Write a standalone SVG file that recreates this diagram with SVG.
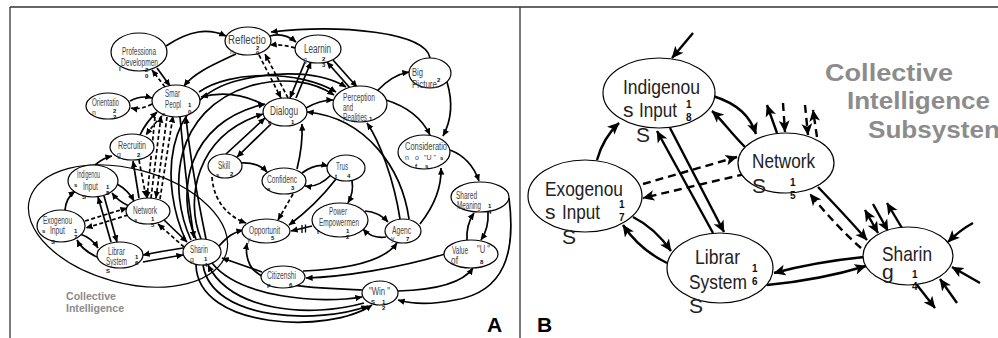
<svg xmlns="http://www.w3.org/2000/svg" width="998" height="338" viewBox="0 0 998 338">
<defs>
  <marker id="ha" viewBox="0 0 10 10" refX="9.5" refY="5" markerWidth="7" markerHeight="7" markerUnits="userSpaceOnUse" orient="auto"><path d="M0,0.5 L10,5 L0,9.5 z" fill="#000"/></marker>
  <marker id="has" viewBox="0 0 10 10" refX="9.5" refY="5" markerWidth="7" markerHeight="7" markerUnits="userSpaceOnUse" orient="auto-start-reverse"><path d="M0,0.5 L10,5 L0,9.5 z" fill="#000"/></marker>
  <marker id="hb" viewBox="0 0 10 10" refX="9.5" refY="5" markerWidth="12" markerHeight="12" markerUnits="userSpaceOnUse" orient="auto"><path d="M0,0.5 L10,5 L0,9.5 L2.5,5 z" fill="#000"/></marker>
  <marker id="hbs" viewBox="0 0 10 10" refX="9.5" refY="5" markerWidth="12" markerHeight="12" markerUnits="userSpaceOnUse" orient="auto-start-reverse"><path d="M0,0.5 L10,5 L0,9.5 L2.5,5 z" fill="#000"/></marker>
  <style>
    .frame { stroke:#333; stroke-width:1.3; fill:none }
    .node ellipse { fill:#fff; stroke:#000; stroke-width:1.2 }
    .ci-ring { fill:none; stroke:#000; stroke-width:1.2 }
    .a { fill:none; stroke:#000; stroke-width:1.7; marker-end:url(#ha) }
    .a2 { marker-start:url(#has) }
    .ad { stroke-dasharray:4 2.5 }
    .p { fill:none; stroke:#000; stroke-width:1.3 }
    .b { fill:none; stroke:#000; stroke-width:2.4; marker-end:url(#hb) }
    .b2 { marker-start:url(#hbs) }
    .bd { stroke-dasharray:8 5 }
    text { font-family:"Liberation Sans", Arial, Helvetica, sans-serif }
    .ta { font-size:10px; fill:#444 }
    .tl { font-size:12px; fill:#444 }
    .ts { font-size:7px; fill:#444 }
    .num { font-size:6px; font-weight:bold; fill:#111 }
    .tb { font-size:21px; fill:#222 }
    .numb { font-size:10px; font-weight:bold; fill:#111 }
    .ci { font-weight:bold; fill:#8c8c8c }
    .panel { font-size:21px; font-weight:bold; fill:#000 }
  </style>
</defs>
<rect width="998" height="338" fill="#fff"/>

<!-- frame and panel divider -->
<g id="frame">
  <line class="frame" x1="10" y1="7" x2="998" y2="7"/>
  <line class="frame" x1="10" y1="7" x2="10" y2="338"/>
  <line class="frame" x1="520" y1="7" x2="520" y2="338"/>
  <text class="panel" x="487" y="332">A</text>
  <text class="panel" x="537" y="332">B</text>
</g>

<!-- ===================== Panel A ===================== -->
<g id="panel-a">
  <ellipse id="ci-boundary" class="ci-ring" cx="128" cy="226" rx="102" ry="57" transform="rotate(15 128 226)"/>
  <text class="ci" x="66" y="300" font-size="10.5" textLength="50" lengthAdjust="spacingAndGlyphs">Collective</text>
  <text class="ci" x="66" y="312" font-size="10.5" textLength="58" lengthAdjust="spacingAndGlyphs">Intelligence</text>

  <g id="connectors-a">
    <!-- upper cluster -->
    <path class="a" d="M166,46 C190,30 208,28 226,36"/>
    <path class="a" d="M236,54 C215,64 195,72 184,86"/>
    <path class="a" d="M157,68 L170,86"/>
    <path class="a ad" d="M165,87 L152,70"/>
    <path class="a" d="M130,101 Q141,95 152,98"/>
    <path class="a ad" d="M152,104 Q141,110 131,108"/>
    <path class="a" d="M140,135 Q146,122 157,112"/>
    <path class="a ad" d="M162,116 Q153,125 146,135"/>
    <path class="a" d="M270,36 Q284,32 296,42"/>
    <path class="a ad" d="M295,48 Q282,44 270,45"/>
    <path class="a" d="M430,58 C426,32 340,24 271,32"/>
    <path class="a ad" d="M259,55 L281,98"/>
    <path class="a ad" d="M288,98 L265,54"/>
    <path class="a" d="M305,62 L290,98"/>
    <path class="a" d="M296,98 L311,62"/>
    <path class="a" d="M333,60 L357,87"/>
    <path class="a" d="M350,88 L327,62"/>
    <path class="a" d="M306,108 Q320,100 333,100"/>
    <path class="a" d="M377,91 Q392,75 409,72"/>
    <path class="a" d="M447,82 Q456,112 443,136"/>
    <path class="a" d="M386,100 Q418,110 430,135"/>
    <path class="a" d="M199,92 C230,70 300,70 336,92"/>
    <path class="a" d="M264,105 C240,92 220,92 201,97"/>
    <!-- arcs from Sharing up to Dialogue / Perception -->
    <path class="a" d="M201,239 C185,200 195,135 263,114"/>
    <path class="a" d="M196,239 C176,195 185,122 265,104"/>
    <path class="a" d="M191,240 C168,190 172,110 250,86 C285,76 315,82 334,95"/>
    <path class="a" d="M186,241 C160,185 162,98 240,80 C280,70 322,72 346,87"/>
    <path class="a" d="M180,117 C184,160 188,200 194,238"/>
    <path class="a" d="M206,239 C198,200 190,160 186,117"/>
    <!-- Smart People / Network dashed bundle -->
    <path class="a ad" d="M155,117 L147,198"/>
    <path class="a ad" d="M151,198 L161,116"/>
    <path class="a ad" d="M167,117 L156,198"/>
    <path class="a ad" d="M160,199 L173,116"/>
    <path class="a" d="M139,198 L133,161"/>
    <path class="a ad" d="M139,160 L146,197"/>
    <path class="a" d="M95,165 Q103,158 112,156"/>
    <!-- Dialogue, Skill, Confidence, Trust -->
    <path class="a" d="M226,154 L265,118"/>
    <path class="a" d="M271,124 L237,157"/>
    <path class="a" d="M241,163 Q258,162 267,172"/>
    <path class="a" d="M297,169 Q303,145 302,124"/>
    <path class="a ad" d="M212,177 C214,205 232,218 246,223"/>
    <path class="a ad" d="M293,194 L278,220"/>
    <path class="a" d="M302,173 Q315,163 328,166"/>
    <path class="a" d="M331,175 Q318,188 305,186"/>
    <path class="a" d="M352,181 Q354,192 348,203"/>
    <path class="a" d="M336,179 Q316,205 289,225"/>
    <path class="a" d="M312,226 L291,231"/>
    <path class="p" d="M302,225 L302,233 M305.5,224.5 L305.5,232.5"/>
    <path class="a" d="M365,211 Q379,212 388,222"/>
    <path class="a" d="M386,237 Q372,239 363,229"/>
    <path class="a" d="M420,224 Q442,196 441,168"/>
    <path class="a" d="M400,219 C394,180 380,142 367,123"/>
    <path class="a" d="M409,219 C402,170 368,118 307,112"/>
    <!-- right cluster -->
    <path class="a" d="M450,150 Q471,158 479,181"/>
    <path class="a" d="M467,240 Q466,225 474,213"/>
    <path class="a" d="M488,212 Q489,228 481,240"/>
    <path class="a" d="M398,291 C432,290 462,284 473,268"/>
    <path class="a" d="M509,198 C516,252 505,292 455,300 C430,305 412,304 398,300"/>
    <path class="a" d="M445,254 C400,268 342,277 306,278"/>
    <path class="a" d="M303,271 C350,269 385,260 397,243"/>
    <!-- Opportunity, Citizenship, Sharing, Win -->
    <path class="a" d="M219,246 C228,236 234,232 243,230"/>
    <path class="a" d="M262,272 L222,258"/>
    <path class="a" d="M362,290 C320,288 262,288 250,265 Q245,255 247,243"/>
    <path class="a" d="M212,263 C240,298 320,304 362,297"/>
    <path class="a" d="M364,303 C310,318 232,312 208,265"/>
    <path class="a" d="M203,265 C212,322 320,324 368,306"/>
    <path class="a" d="M196,265 C198,330 330,334 372,305"/>
    <!-- Collective Intelligence cluster -->
    <path class="a" d="M65,210 Q66,198 75,191"/>
    <path class="a" d="M117,184 Q128,190 134,201"/>
    <path class="a" d="M129,206 Q118,201 112,193"/>
    <path class="a" d="M104,196 L117,242"/>
    <path class="a" d="M111,242 L98,197"/>
    <path class="a ad" d="M85,221 L127,208"/>
    <path class="a ad" d="M128,215 L86,228"/>
    <path class="a" d="M80,234 Q92,238 98,248"/>
    <path class="a" d="M97,257 Q82,250 77,240"/>
    <path class="a" d="M143,262 Q165,258 183,255"/>
    <path class="a" d="M183,248 Q163,251 143,255"/>
    <path class="a" d="M162,218 L187,242"/>
    <path class="a ad" d="M184,247 L158,224"/>
  </g>

  <g id="a-professional-development" class="node"><ellipse cx="139" cy="52" rx="28" ry="19"/>
    <text class="ta" x="122" y="55" textLength="34" lengthAdjust="spacingAndGlyphs">Professiona</text>
    <text class="ta" x="121" y="66" textLength="37" lengthAdjust="spacingAndGlyphs">Developmen</text>
    <text class="num" x="119" y="71">l</text><text class="num" x="145" y="72">2</text><text class="num" x="145" y="78">0</text></g>
  <g id="a-reflection" class="node"><ellipse cx="248" cy="41" rx="23" ry="14"/>
    <text class="tl" x="228" y="44" textLength="38" lengthAdjust="spacingAndGlyphs">Reflectio</text>
    <text class="ts" x="230" y="54">n</text><text class="num" x="256" y="50">2</text><text class="num" x="256" y="55">0</text></g>
  <g id="a-learning" class="node"><ellipse cx="318" cy="49" rx="23" ry="14"/>
    <text class="tl" x="304" y="53" textLength="27" lengthAdjust="spacingAndGlyphs">Learnin</text>
    <text class="ts" x="303" y="62">g</text><text class="num" x="322" y="61">2</text><text class="num" x="322" y="67">3</text></g>
  <g id="a-big-picture" class="node"><ellipse cx="430" cy="73" rx="21" ry="15"/>
    <text class="ta" x="412" y="76" font-size="11" textLength="11" lengthAdjust="spacingAndGlyphs">Big</text>
    <text class="ta" x="412" y="88" font-size="11" textLength="25" lengthAdjust="spacingAndGlyphs">Picture</text>
    <text class="num" x="437" y="82">2</text></g>
  <g id="a-smart-people" class="node"><ellipse cx="176" cy="101" rx="24" ry="16"/>
    <text class="ta" x="165" y="97" textLength="15" lengthAdjust="spacingAndGlyphs">Smar</text>
    <text class="ta" x="165" y="108" textLength="16" lengthAdjust="spacingAndGlyphs">Peopl</text>
    <text class="num" x="188" y="107">1</text><text class="num" x="188" y="114">0</text><text class="num" x="162" y="116">e</text></g>
  <g id="a-orientation" class="node"><ellipse cx="108" cy="106" rx="22" ry="13"/>
    <text class="ta" x="92" y="106" textLength="27" lengthAdjust="spacingAndGlyphs">Orientatio</text>
    <text class="ts" x="92" y="115">n</text><text class="num" x="113" y="113">2</text><text class="num" x="113" y="119">2</text></g>
  <g id="a-recruiting" class="node"><ellipse cx="132" cy="147" rx="22" ry="13"/>
    <text class="ta" x="118" y="149" textLength="28" lengthAdjust="spacingAndGlyphs">Recruitin</text>
    <text class="ts" x="117" y="157">g</text><text class="num" x="137" y="157">2</text></g>
  <g id="a-dialogue" class="node"><ellipse cx="285" cy="112" rx="22" ry="14"/>
    <text class="tl" x="270" y="115" textLength="28" lengthAdjust="spacingAndGlyphs">Dialogu</text>
    <text class="num" x="268" y="124">e</text><text class="num" x="291" y="124">1</text></g>
  <g id="a-perception" class="node"><ellipse cx="360" cy="104" rx="27" ry="18"/>
    <text class="ta" x="343" y="101" font-size="9.5" textLength="32" lengthAdjust="spacingAndGlyphs">Perception</text>
    <text class="ta" x="343" y="111" font-size="9.5" textLength="10" lengthAdjust="spacingAndGlyphs">and</text>
    <text class="ta" x="343" y="121" font-size="9.5" textLength="24" lengthAdjust="spacingAndGlyphs">Realities</text>
    <text class="num" x="369" y="121">1</text></g>
  <g id="a-consideration" class="node"><ellipse cx="424" cy="152" rx="26" ry="17"/>
    <text class="ta" x="405" y="150" textLength="42" lengthAdjust="spacingAndGlyphs">Consideratio</text>
    <text class="ts" x="405" y="160">n</text><text class="ts" x="415" y="160">o</text><text class="ts" x="424" y="160">"U "</text><text class="num" x="440" y="160">s</text>
    <text class="num" x="415" y="168">f</text><text class="num" x="425" y="168">s</text></g>
  <g id="a-skill" class="node"><ellipse cx="225" cy="166" rx="17" ry="12"/>
    <text class="ta" x="218" y="169" textLength="12" lengthAdjust="spacingAndGlyphs">Skill</text>
    <text class="num" x="216" y="177">s</text><text class="num" x="230" y="176">2</text></g>
  <g id="a-confidence" class="node"><ellipse cx="284" cy="181" rx="22" ry="13"/>
    <text class="ta" x="267" y="183" textLength="30" lengthAdjust="spacingAndGlyphs">Confidenc</text>
    <text class="num" x="267" y="191">e</text><text class="num" x="291" y="190">3</text></g>
  <g id="a-trust" class="node"><ellipse cx="346" cy="168" rx="19" ry="13"/>
    <text class="ta" x="336" y="170" textLength="12" lengthAdjust="spacingAndGlyphs">Trus</text>
    <text class="num" x="335" y="178">t</text><text class="num" x="347" y="178">4</text></g>
  <g id="a-opportunity" class="node"><ellipse cx="266" cy="231" rx="24" ry="12"/>
    <text class="ta" x="249" y="234" textLength="31" lengthAdjust="spacingAndGlyphs">Opportunit</text>
    <text class="ts" x="247" y="242">y</text><text class="num" x="271" y="240">5</text></g>
  <g id="a-power-empowerment" class="node"><ellipse cx="340" cy="220" rx="28" ry="17"/>
    <text class="ta" x="329" y="215" textLength="18" lengthAdjust="spacingAndGlyphs">Power</text>
    <text class="ta" x="319" y="226" textLength="40" lengthAdjust="spacingAndGlyphs">Empowermen</text>
    <text class="num" x="317" y="234">t</text><text class="num" x="346" y="233">1</text><text class="num" x="346" y="239">2</text></g>
  <g id="a-agency" class="node"><ellipse cx="403" cy="231" rx="18" ry="12"/>
    <text class="ta" x="392" y="234" textLength="19" lengthAdjust="spacingAndGlyphs">Agenc</text>
    <text class="ts" x="391" y="241">y</text><text class="num" x="406" y="241">7</text></g>
  <g id="a-shared-meaning" class="node"><ellipse cx="480" cy="197" rx="29" ry="15"/>
    <text class="ta" x="456" y="199" textLength="21" lengthAdjust="spacingAndGlyphs">Shared</text>
    <text class="ta" x="457" y="209" textLength="24" lengthAdjust="spacingAndGlyphs">Meaning</text>
    <text class="num" x="488" y="208">1</text><text class="num" x="488" y="214">4</text></g>
  <g id="a-value-of-u" class="node"><ellipse cx="471" cy="254" rx="27" ry="14"/>
    <text class="ta" x="452" y="254" textLength="16" lengthAdjust="spacingAndGlyphs">Value</text>
    <text class="ta" x="477" y="253" font-size="9" textLength="13" lengthAdjust="spacingAndGlyphs">"U "</text>
    <text class="ta" x="451" y="264" font-size="9" textLength="7" lengthAdjust="spacingAndGlyphs">of</text>
    <text class="num" x="480" y="264">8</text></g>
  <g id="a-citizenship" class="node"><ellipse cx="283" cy="277" rx="22" ry="11"/>
    <text class="ta" x="267" y="279" textLength="29" lengthAdjust="spacingAndGlyphs">Citizenshi</text>
    <text class="num" x="267" y="287">p</text><text class="num" x="289" y="287">6</text></g>
  <g id="a-win" class="node"><ellipse cx="380" cy="293" rx="18" ry="12"/>
    <text class="ta" x="369" y="295" font-size="9" textLength="21" lengthAdjust="spacingAndGlyphs">"Win "</text>
    <text class="num" x="371" y="304">S</text><text class="num" x="382" y="304">1</text><text class="num" x="382" y="310">2</text></g>
  <g id="a-indigenous-inputs" class="node"><ellipse cx="93" cy="181" rx="25" ry="16"/>
    <text class="ta" x="77" y="178" font-size="9.5" textLength="23" lengthAdjust="spacingAndGlyphs">Indigenou</text>
    <text class="num" x="74" y="187">s</text>
    <text class="ta" x="83" y="190" font-size="9.5" textLength="15" lengthAdjust="spacingAndGlyphs">Input</text>
    <text class="num" x="106" y="189">1</text><text class="num" x="106" y="195">8</text><text class="num" x="82" y="199">S</text></g>
  <g id="a-exogenous-inputs" class="node"><ellipse cx="61" cy="226" rx="24" ry="16"/>
    <text class="ta" x="43" y="224" font-size="9.5" textLength="29" lengthAdjust="spacingAndGlyphs">Exogenou</text>
    <text class="num" x="42" y="233">s</text>
    <text class="ta" x="50" y="234" font-size="9.5" textLength="15" lengthAdjust="spacingAndGlyphs">Input</text>
    <text class="num" x="74" y="233">1</text><text class="num" x="74" y="239">7</text><text class="num" x="51" y="244">S</text></g>
  <g id="a-network" class="node"><ellipse cx="148" cy="211" rx="22" ry="13"/>
    <text class="ta" x="133" y="214" font-size="9.5" textLength="24" lengthAdjust="spacingAndGlyphs">Network</text>
    <text class="num" x="134" y="222">s</text><text class="num" x="151" y="221">1</text><text class="num" x="151" y="227">5</text></g>
  <g id="a-library-systems" class="node"><ellipse cx="120" cy="255" rx="23" ry="13"/>
    <text class="ta" x="108" y="255" font-size="9.5" textLength="17" lengthAdjust="spacingAndGlyphs">Librar</text>
    <text class="ta" x="106" y="265" font-size="9.5" textLength="21" lengthAdjust="spacingAndGlyphs">System</text>
    <text class="num" x="135" y="259">1</text><text class="num" x="135" y="265">6</text><text class="num" x="106" y="273">S</text></g>
  <g id="a-sharing" class="node"><ellipse cx="202" cy="252" rx="19" ry="13"/>
    <text class="ta" x="190" y="253" font-size="9.5" textLength="18" lengthAdjust="spacingAndGlyphs">Sharin</text>
    <text class="ts" x="190" y="262">g</text><text class="num" x="204" y="261">1</text><text class="num" x="204" y="267">4</text></g>
</g>

<!-- ===================== Panel B ===================== -->
<g id="panel-b">
  <text class="ci" x="825" y="81" font-size="23" textLength="128" lengthAdjust="spacingAndGlyphs">Collective</text>
  <text class="ci" x="847" y="109" font-size="23" textLength="143" lengthAdjust="spacingAndGlyphs">Intelligence</text>
  <text class="ci" x="868" y="138" font-size="23" textLength="132" lengthAdjust="spacingAndGlyphs">Subsysten</text>

  <g id="connectors-b">
    <path class="b" d="M693,33 Q683,45 672,58"/>
    <path class="b" d="M597,160 Q603,138 619,123"/>
    <path class="b" d="M713,233 L657,131"/>
    <path class="b" d="M670,128 L724,232"/>
    <path class="b" d="M713,96 C738,104 750,116 756,134"/>
    <path class="b" d="M745,147 C730,132 722,120 712,111"/>
    <path class="b bd" d="M643,184 L737,157"/>
    <path class="b bd" d="M745,174 L643,198"/>
    <path class="b" d="M633,217 Q655,228 671,251"/>
    <path class="b" d="M667,263 Q640,250 623,225"/>
    <path class="b" d="M767,285 Q820,280 866,266"/>
    <path class="b" d="M864,257 Q815,262 774,273"/>
    <path class="b" d="M818,187 Q845,215 867,240"/>
    <path class="b bd" d="M861,248 Q835,225 810,194"/>
    <path class="b" d="M777,133 L767,105"/>
    <path class="b bd" d="M783,103 L785,132"/>
    <path class="b bd" d="M805,105 L808,135"/>
    <path class="b bd" d="M817,137 L813,110"/>
    <path class="b b2" d="M865,210 L878,233"/>
    <path class="b" d="M873,204 L888,231"/>
    <path class="b" d="M902,228 L887,203"/>
    <path class="b" d="M973,223 Q960,230 948,242"/>
    <path class="b" d="M980,283 L952,267"/>
    <path class="b" d="M957,303 L940,279"/>
    <path class="b" d="M917,285 L935,308"/>
  </g>

  <g id="b-indigenous-inputs" class="node"><ellipse cx="659" cy="93" rx="56" ry="35"/>
    <text class="tb" x="623" y="94" textLength="77" lengthAdjust="spacingAndGlyphs">Indigenou</text>
    <text class="tb" x="623" y="117">s</text>
    <text class="tb" x="639" y="117" textLength="38" lengthAdjust="spacingAndGlyphs">Input</text>
    <text class="numb" x="686" y="108">1</text><text class="numb" x="686" y="121">8</text>
    <text class="tb" x="636" y="142" font-size="19">S</text></g>
  <g id="b-exogenous-inputs" class="node"><ellipse cx="585" cy="196" rx="57" ry="36"/>
    <text class="tb" x="545" y="196" textLength="78" lengthAdjust="spacingAndGlyphs">Exogenou</text>
    <text class="tb" x="545" y="219">s</text>
    <text class="tb" x="562" y="219" textLength="38" lengthAdjust="spacingAndGlyphs">Input</text>
    <text class="numb" x="619" y="208">1</text><text class="numb" x="619" y="221">7</text>
    <text class="tb" x="562" y="244" font-size="19">S</text></g>
  <g id="b-network" class="node"><ellipse cx="786" cy="163" rx="48" ry="30"/>
    <text class="tb" x="752" y="168" textLength="63" lengthAdjust="spacingAndGlyphs">Network</text>
    <text class="tb" x="752" y="193" font-size="19">S</text>
    <text class="numb" x="790" y="186">1</text><text class="numb" x="790" y="199">5</text></g>
  <g id="b-library-systems" class="node"><ellipse cx="720" cy="268" rx="53" ry="35"/>
    <text class="tb" x="695" y="264" textLength="45" lengthAdjust="spacingAndGlyphs">Librar</text>
    <text class="tb" x="689" y="289" textLength="58" lengthAdjust="spacingAndGlyphs">System</text>
    <text class="numb" x="752" y="272">1</text><text class="numb" x="752" y="285">6</text>
    <text class="tb" x="689" y="313" font-size="19">S</text></g>
  <g id="b-sharing" class="node"><ellipse cx="908" cy="256" rx="45" ry="29"/>
    <text class="tb" x="882" y="261" textLength="50" lengthAdjust="spacingAndGlyphs">Sharin</text>
    <text class="tb" x="882" y="279">g</text>
    <text class="numb" x="912" y="278">1</text><text class="numb" x="912" y="290">4</text></g>
</g>
</svg>
